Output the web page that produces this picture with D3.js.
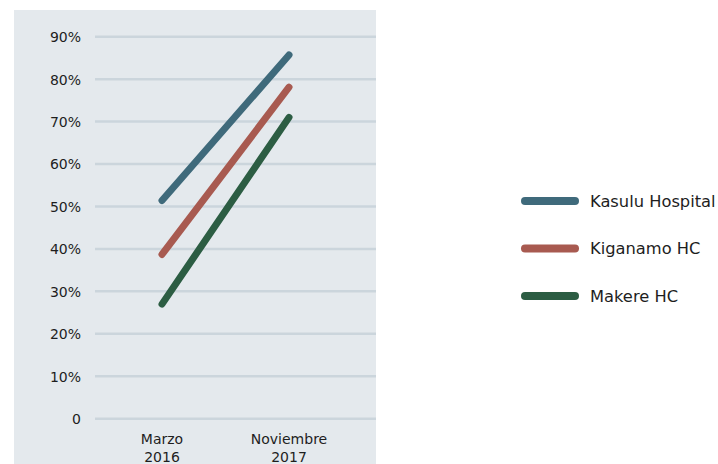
<!DOCTYPE html>
<html>
<head>
<meta charset="utf-8">
<script src="https://cdn.jsdelivr.net/npm/d3@7"></script>
<style>
  body { margin: 0; background: #fff; }
  svg text { font-family: "DejaVu Sans", sans-serif; fill: #1e1e1e; }
</style>
</head>
<body>
<div id="graph"></div>
<script>
const periods = ["Marzo 2016", "Noviembre 2017"];
const seriesNames = ["Kasulu Hospital", "Kiganamo HC", "Makere HC"];
const kasulu = [51.4, 85.7];
const kiganamo = [38.7, 78.1];
const makere = [27.0, 71.0];
const yTicks = [0, 10, 20, 30, 40, 50, 60, 70, 80, 90];

const colors = ["#3f6a7b", "#a85a50", "#2c5d43"];
const seriesValues = [kasulu, kiganamo, makere];

const fullwidth = 718;
const fullheight = 464;

const svg = d3.select("#graph").
append("svg").
attr("width", fullwidth).
attr("height", fullheight);

// panel background
svg.append("rect").
attr("x", 14).
attr("y", 10).
attr("width", 362).
attr("height", fullheight - 10).
attr("fill", "#e4e9ed");

const yScale = d3.scaleLinear().
domain([0, 90]).
range([418.7, 36.7]);

const xScale = d3.scalePoint().
domain(periods).
range([162, 289]);

// gridlines
svg.append("g").
selectAll("line").
data(yTicks).
enter().
append("line").
attr("x1", 95).
attr("x2", 376).
attr("y1", d => yScale(d)).
attr("y2", d => yScale(d)).
attr("stroke", "#cbd5dc").
attr("stroke-width", 2.5);

const yAxis = d3.axisLeft(yScale).
tickValues(yTicks).
tickSize(0).
tickPadding(0).
tickFormat(d => d === 0 ? "0" : d + "%");

const yG = svg.append("g").
attr("transform", "translate(81,0)").
call(yAxis);
yG.select(".domain").remove();
yG.selectAll("text").
attr("font-size", 14).
attr("font-family", "DejaVu Sans").
attr("fill", "#1e1e1e").
attr("dy", "0.35em");

// x labels, two lines each
const xG = svg.append("g");
xG.selectAll("text").
data(periods).
enter().
append("text").
attr("x", d => xScale(d)).
attr("y", 444).
attr("text-anchor", "middle").
attr("font-size", 14).
each(function (d) {
  const parts = d.split(" ");
  d3.select(this).append("tspan").attr("x", xScale(d)).text(parts[0]);
  d3.select(this).append("tspan").attr("x", xScale(d)).attr("dy", 18).text(parts[1]);
});

const line = d3.line().
x((d, i) => xScale(periods[i])).
y(d => yScale(d));

svg.append("g").
selectAll("path").
data(seriesValues).
enter().
append("path").
attr("d", d => line(d)).
attr("fill", "none").
attr("stroke", (d, i) => colors[i]).
attr("stroke-width", 7).
attr("stroke-linecap", "round");

// legend
const legend = svg.append("g").
selectAll("g").
data(seriesNames).
enter().
append("g").
attr("transform", (d, i) => "translate(0," + (201 + i * 47.5) + ")");

legend.append("line").
attr("x1", 525).
attr("x2", 575).
attr("y1", 0).
attr("y2", 0).
attr("stroke", (d, i) => colors[i]).
attr("stroke-width", 8).
attr("stroke-linecap", "round");

legend.append("text").
attr("x", 590).
attr("y", 0).
attr("dy", "0.35em").
attr("font-size", 16.3).
text(d => d);
</script>
</body>
</html>
